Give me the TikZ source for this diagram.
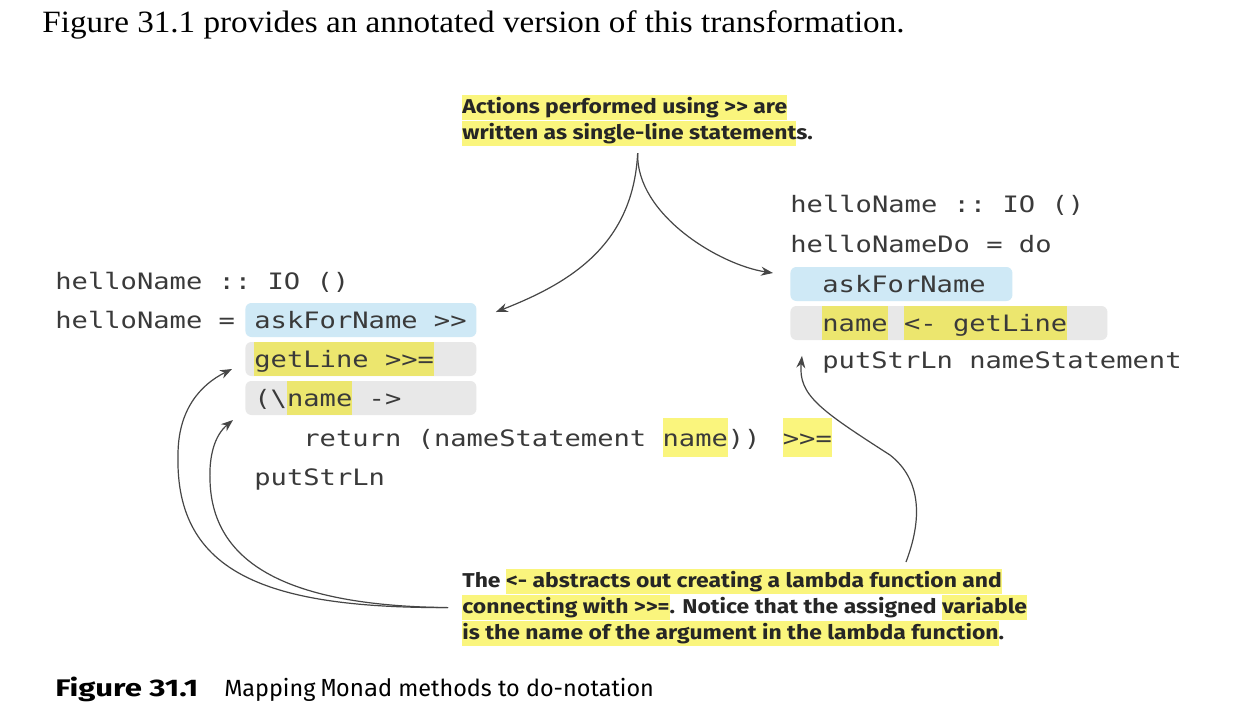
\documentclass[tikz,border=0pt]{standalone}
\usepackage{fontspec}
\setmainfont[FakeStretch=1.07]{Liberation Serif}
\setsansfont{Fira Sans}
\setmonofont[FakeStretch=1.2]{DejaVu Sans Mono}
\newfontfamily\capmono{DejaVu Sans Mono}
\newfontfamily\notefamily[FakeStretch=1.145]{Fira Sans}
\newfontfamily\capfamily[FakeStretch=1.3]{Fira Sans}
\usepackage{tikz}
\usetikzlibrary{arrows.meta, calc}

\definecolor{codetext}{RGB}{58,58,58}
\definecolor{notetext}{RGB}{38,38,38}
\definecolor{codeblue}{RGB}{207,233,246}
\definecolor{codegray}{RGB}{232,232,232}
\definecolor{codeyellow}{RGB}{236,230,110}
\definecolor{noteyellow}{RGB}{250,245,125}
\definecolor{arrowgray}{RGB}{70,70,70}

\newcommand{\codefont}{\ttfamily\fontsize{11.3}{13}\selectfont}
\newcommand{\notefont}{\notefamily\bfseries\fontsize{10}{13}\selectfont}
\newcommand{\codeline}[2]{\makebox[#1][l]{#2}}
\newcommand{\hlcode}[1]{{\fboxsep=0pt\colorbox{codeyellow}{\rule[-4.5pt]{0pt}{17pt}#1}}}
\newcommand{\hlfree}[1]{{\fboxsep=0pt\colorbox{noteyellow}{\rule[-5.5pt]{0pt}{19.5pt}#1}}}
\newcommand{\hlnote}[1]{{\fboxsep=0pt\colorbox{noteyellow}{\rule[-3.2pt]{0pt}{12.2pt}#1}}}

\begin{document}
\begin{tikzpicture}[
    x=0.5pt, y=-0.5pt,
    code/.style={font=\codefont, text=codetext, inner sep=0pt, anchor=base west},
    codebox/.style={code, rounded corners=3pt, inner ysep=0pt, text height=12.5pt, text depth=4.5pt},
    askbox/.style={codebox, fill=codeblue},
    linebox/.style={codebox, fill=codegray},
    note/.style={font=\notefont, text=notetext, inner sep=0pt, align=left, anchor=north west},
    arrow/.style={draw=arrowgray, line width=0.6pt, -{Stealth[length=6pt, width=4.5pt]}}
]
    \fill[white] (0,0) rectangle (1260,720);
    \useasboundingbox (0,0) rectangle (1260,720);

    % --- Text around the figure ---
    \node[anchor=base west, inner sep=0pt, font=\fontsize{15.5}{18}\selectfont] (intro) at (42,32)
        {Figure 31.1 provides an annotated version of this transformation.};
    \node[anchor=base west, inner sep=0pt, font=\sffamily\fontsize{11.7}{14}\selectfont] (caption) at (55,696)
        {{\capfamily\bfseries\fontsize{12}{14}\selectfont Figure 31.1}\hspace{13pt}Mapping {\capmono Monad} methods to do-notation};

    % --- Left: chained with >> and >>= ---
    \node[code] (sigL) at (55,289) {helloName :: IO ()};
    \node[code] (defL) at (55,328) {helloName =};
    \node[askbox, inner xsep=4.5pt] (askL) at (245,328) {\codeline{106.5pt}{askForName >>}};
    \node[linebox, inner xsep=4.5pt] (getL) at (245,367) {\codeline{106.5pt}{\hlcode{getLine >>=}}};
    \node[linebox, inner xsep=4.5pt] (lamL) at (245,406) {\codeline{106.5pt}{(\textbackslash\hlcode{name} ->}};
    \node[code] (retL) at (303,446) {return (nameStatement \hlfree{name}))\hspace{3pt} \hlfree{>>=}};
    \node[code] (putL) at (254,485) {putStrLn};

    % --- Right: do-notation ---
    \node[code] (sigR) at (790,212) {helloName :: IO ()};
    \node[code] (defR) at (790,252) {helloNameDo = do};
    \node[askbox, inner xsep=16pt] (askR) at (790,292) {\codeline{79pt}{askForName}};
    \node[linebox, inner xsep=16pt] (getR) at (790,331) {\codeline{126.5pt}{\hlcode{name} \hlcode{<- getLine}}};
    \node[code] (putR) at (822,368) {putStrLn nameStatement};

    % --- Annotations ---
    \node[note] (topnote) at (462,95)
        {\hlnote{Actions performed using >\kern0pt> are}\\
         \hlnote{written as single-line statement}s.};
    \node[note] (botnote) at (462,569)
        {The \hlnote{<- abstracts out creating a lambda function and}\\
         \hlnote{connecting with >\kern0pt>=}. Notice that the assigned \hlnote{variable}\\
         \hlnote{is the name of the argument in the lambda function}.};

    % --- Arrows ---
    \coordinate (fork) at ($(topnote.south)+(0,7)$);
    \coordinate (bend) at ($(botnote.west)+(-14,0)$);
    \draw[arrow] (fork) .. controls (633,245) and (570,283) .. ($(askL.east)+(19,-8)$);
    \draw[arrow] (fork) .. controls (636,215) and (720,265) .. ($(askR.west)+(-17,-11)$);
    \draw[arrow] (bend) .. controls (270,608) and (175,575) .. (178,455)
        .. controls (178,410) and (200,385) .. ($(getL.west)+(-13,10)$);
    \draw[arrow] (bend) .. controls (300,606) and (212,570) .. (210,480)
        .. controls (209,455) and (215,435) .. ($(lamL.west)+(-12,22)$);
    \draw[arrow] ($(botnote.north west)+(444,-7)$) .. controls (922,520) and (922,480) .. (890,455)
        .. controls (820,410) and (798,395) .. ($(putR.west)+(-20,-6)$);
\end{tikzpicture}
\end{document}
